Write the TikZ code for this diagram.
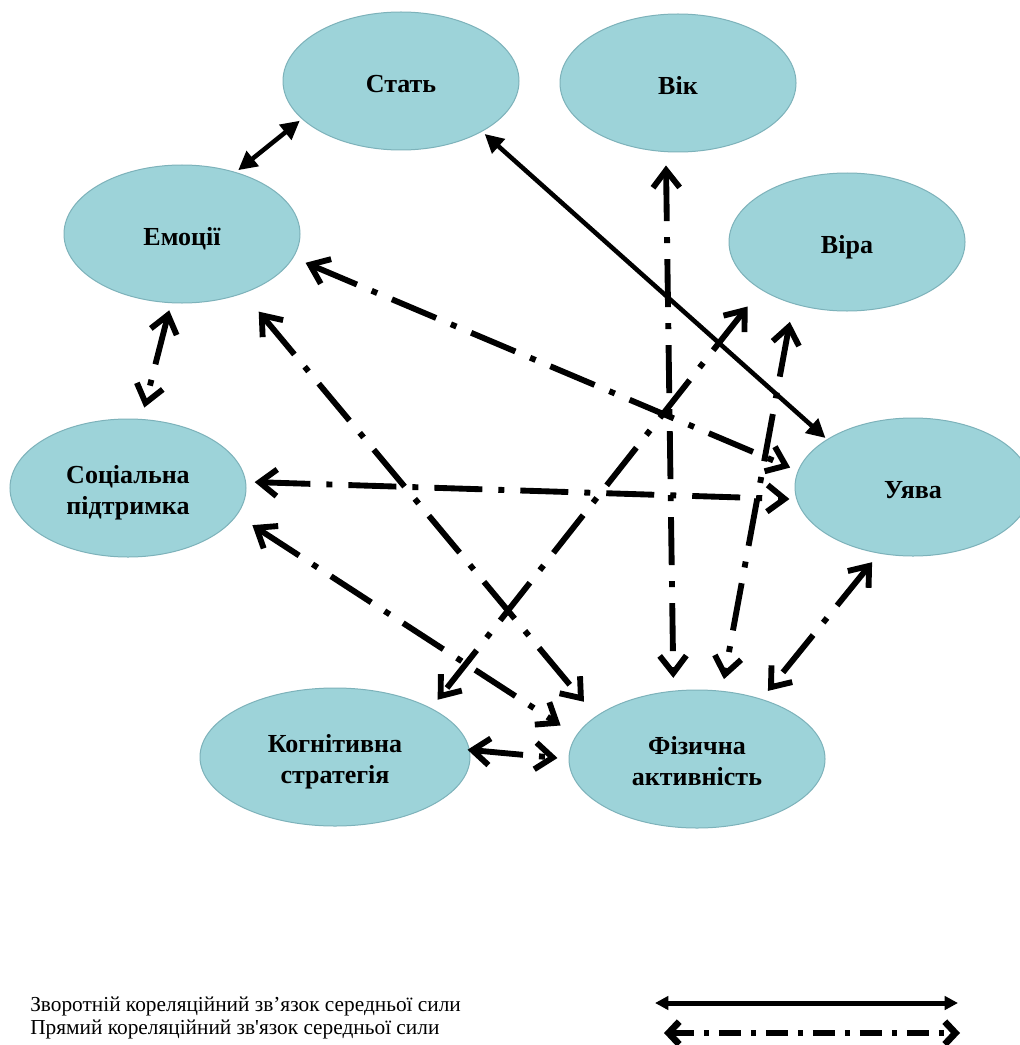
\documentclass[tikz,border=0pt]{standalone}
\usepackage{fontspec}
\setmainfont{Liberation Serif}
\newfontfamily\legendfont{Liberation Serif}
\usetikzlibrary{shapes.geometric,arrows.meta}

\definecolor{bubble}{RGB}{157,211,217}
\definecolor{bubbleedge}{RGB}{125,178,186}

% label text inside a bubble, set a little below the centre
\newcommand\bubbletext[1]{\raisebox{-3.7pt}[\height][\depth]{\begin{tabular}{@{}c@{}}#1\end{tabular}}}

\begin{document}
\begin{tikzpicture}[x=0.75pt,y=-0.75pt,
  factor/.style={ellipse, fill=bubble, draw=bubbleedge, line width=0.75pt,
    minimum width=177pt, minimum height=103.5pt, inner sep=0pt,
    font=\fontsize{19.5}{23.5}\selectfont\bfseries},
  inverse/.style={line width=3.4pt,
    {Triangle[length=14pt,width=14pt]}-{Triangle[length=14pt,width=14pt]}},
  direct/.style={line width=4.4pt, dash pattern=on 36pt off 12pt on 4.5pt off 12pt,
    {Straight Barb[length=13pt,width=20pt]}-{Straight Barb[length=13pt,width=20pt]}},
  legendtext/.style={anchor=west, inner sep=0pt, font=\legendfont\fontsize{16}{18}\selectfont},
]
\fill[white] (0,0) rectangle (1020,1045);
\useasboundingbox (0,0) rectangle (1020,1045);

% factors
\node[factor] (stat) at (401,81) {\bubbletext{Стать}};
\node[factor] (vik) at (678,83) {\bubbletext{Вік}};
\node[factor] (emo) at (182,234) {\bubbletext{Емоції}};
\node[factor] (vira) at (847,242) {\bubbletext{Віра}};
\node[factor] (soc) at (128,488) {\bubbletext{Соціальна\\підтримка}};
\node[factor] (uyava) at (913,487) {\bubbletext{Уява}};
\node[factor, minimum width=202.5pt] (kog) at (335,757) {\bubbletext{Когнітивна\\стратегія}};
\node[factor, minimum width=192pt] (fiz) at (697,759) {\bubbletext{Фізична\\активність}};

% inverse correlations
\draw[inverse, shorten <=2pt, shorten >=2.3pt] (stat.-159) -- (emo.49);
\draw[inverse, shorten <=2.6pt, shorten >=1.4pt] (stat.-32) -- (uyava.151);

% direct correlations
\draw[direct, shorten <=10pt, shorten >=9.6pt] (vik.-100) -- (fiz.109);
\draw[direct, shorten <=16pt, shorten >=7.9pt] (vira.-151) -- (kog.27);
\draw[direct, shorten <=13.7pt, shorten >=8.9pt] (vira.-131) -- (fiz.70.5);
\draw[direct, shorten <=9.9pt, shorten >=6.2pt] (emo.-12) -- (uyava.172);
\draw[direct, shorten <=5.5pt, shorten >=8.8pt] (emo.-99) -- (soc.79);
\draw[direct, shorten <=17.8pt, shorten >=14pt] (emo.-44.6) -- (fiz.157.6);
\draw[direct, shorten <=6.5pt, shorten >=5.2pt] (soc.3.2) -- (uyava.-174);
\draw[direct, shorten <=13.7pt, shorten >=13.8pt] (soc.-14.25) -- (fiz.169.4);
\draw[direct, shorten <=-1.7pt, shorten >=8.3pt] (kog.3) -- (fiz.180);
\draw[direct, shorten <=8.3pt, shorten >=7.7pt] (uyava.-117) -- (fiz.43.3);

% legend
\node[legendtext] (t1) at (30,1006) {Зворотній кореляційний зв’язок середньої сили};
\node[legendtext] (t2) at (30,1029) {Прямий кореляційний зв'язок середньої сили};
\coordinate (s1) at (655,1003);
\coordinate (e1) at (958,1003);
\coordinate (s2) at (664,1033);
\coordinate (e2) at (960,1033);
\draw[line width=3.75pt, {Triangle[length=10pt,width=10pt]}-{Triangle[length=10pt,width=10pt]}] (s1) -- (e1);
\draw[line width=5pt, dash pattern=on 16.5pt off 7.5pt on 3.75pt off 7.5pt,
  {Straight Barb[length=8pt,width=17pt]}-{Straight Barb[length=8pt,width=17pt]}] (s2) -- (e2);
\end{tikzpicture}
\end{document}
